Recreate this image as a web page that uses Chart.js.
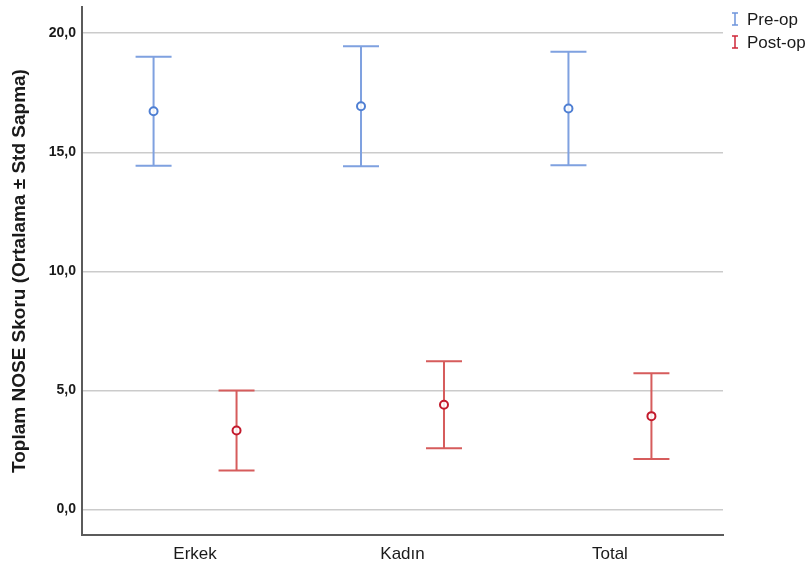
<!DOCTYPE html>
<html>
<head>
<meta charset="utf-8">
<script src="https://cdn.jsdelivr.net/npm/chart.js@4.4.1/dist/chart.umd.min.js"></script>
<style>
  html, body { margin: 0; padding: 0; background: #fff; }
  #wrap { width: 810px; height: 568px; position: relative; }
</style>
</head>
<body>
<div id="wrap"><canvas id="c"></canvas></div>
<script>
/* ── Data ──────────────────────────────────────────────────────────── */
const categories  = ['Erkek', 'Kadın', 'Total'];
const seriesNames = ['Pre-op', 'Post-op'];
const preMean  = [16.72, 16.93, 16.84];
const preSD    = [2.29, 2.52, 2.38];
const postMean = [3.32, 4.40, 3.92];
const postSD   = [1.68, 1.83, 1.80];
const yTicks   = [0, 5, 10, 15, 20];

/* ── Styling ───────────────────────────────────────────────────────── */
const FONT = '"Liberation Sans", Arial, sans-serif';
const COLORS = {
  pre:  { line: '#7fa1e0', mark: '#4f7fd3', legend: '#6f95dc' },
  post: { line: '#d65c5c', mark: '#c31a2c', legend: '#d0283a' },
};
const GROUP_OFFSET = 0.2;   // pre-op left, post-op right of the category
const CAP_HALF = 18;

function points(means, shift) {
  return means.map((m, i) => ({ x: i + 1 + shift, y: m }));
}

/* Error bars: mean ± SD, drawn through the y scale */
const errorBars = {
  id: 'errorBars',
  beforeDatasetsDraw(chart) {
    const ctx = chart.ctx;
    const ys = chart.scales.y;
    chart.data.datasets.forEach((ds, di) => {
      const meta = chart.getDatasetMeta(di);
      ctx.save();
      ctx.strokeStyle = ds.barColor;
      ctx.lineWidth = 2;
      meta.data.forEach((pt, i) => {
        const m = ds.data[i].y, sd = ds.sd[i];
        const yHi = ys.getPixelForValue(m + sd);
        const yLo = ys.getPixelForValue(m - sd);
        const x = pt.x;
        ctx.beginPath();
        ctx.moveTo(x, yHi); ctx.lineTo(x, yLo);
        ctx.moveTo(x - CAP_HALF, yHi); ctx.lineTo(x + CAP_HALF, yHi);
        ctx.moveTo(x - CAP_HALF, yLo); ctx.lineTo(x + CAP_HALF, yLo);
        ctx.stroke();
      });
      ctx.restore();
    });
  },
};

/* Legend with small I-beam glyphs, outside the plot at top right */
const sideLegend = {
  id: 'sideLegend',
  afterDraw(chart) {
    const ctx = chart.ctx;
    const x0 = chart.chartArea.right + 12;
    chart.data.datasets.forEach((ds, i) => {
      const cy = 19 + i * 23;
      ctx.save();
      ctx.strokeStyle = ds.legendColor;
      ctx.lineWidth = 1.5;
      ctx.beginPath();
      ctx.moveTo(x0, cy - 6); ctx.lineTo(x0, cy + 6);
      ctx.moveTo(x0 - 3, cy - 6); ctx.lineTo(x0 + 3, cy - 6);
      ctx.moveTo(x0 - 3, cy + 6); ctx.lineTo(x0 + 3, cy + 6);
      ctx.stroke();
      ctx.fillStyle = '#1a1a1a';
      ctx.font = '17px ' + FONT;
      ctx.textBaseline = 'middle';
      ctx.fillText(ds.label, x0 + 12, cy + 1);
      ctx.restore();
    });
  },
};

new Chart(document.getElementById('c'), {
  type: 'scatter',
  data: {
    datasets: [
      {
        label: seriesNames[0],
        data: points(preMean, -GROUP_OFFSET),
        sd: preSD,
        barColor: COLORS.pre.line,
        legendColor: COLORS.pre.legend,
        pointRadius: 4,
        pointBorderWidth: 2,
        pointBorderColor: COLORS.pre.mark,
        pointBackgroundColor: 'rgba(255,255,255,0.85)',
      },
      {
        label: seriesNames[1],
        data: points(postMean, GROUP_OFFSET),
        sd: postSD,
        barColor: COLORS.post.line,
        legendColor: COLORS.post.legend,
        pointRadius: 4,
        pointBorderWidth: 2,
        pointBorderColor: COLORS.post.mark,
        pointBackgroundColor: 'rgba(255,255,255,0.85)',
      },
    ],
  },
  options: {
    responsive: true,
    maintainAspectRatio: false,
    animation: false,
    layout: { padding: { top: 7, right: 87, left: 0, bottom: 0 } },
    plugins: { legend: { display: false }, tooltip: { enabled: false } },
    scales: {
      x: {
        type: 'linear',
        min: 0.455,
        max: 3.545,
        afterBuildTicks: s => { s.ticks = categories.map((c, i) => ({ value: i + 1 })); },
        afterFit: s => { s.height = 33; s.paddingLeft = 0; s.paddingRight = 0; },
        ticks: {
          callback: v => categories[Math.round(v) - 1],
          color: '#1a1a1a',
          font: { family: FONT, size: 17 },
          padding: 9,
          maxRotation: 0,
        },
        grid: { display: false, drawTicks: false },
        border: { display: true, color: '#5b5b5b', width: 2 },
      },
      y: {
        min: -1.07,
        max: 21.1,
        afterBuildTicks: s => { s.ticks = yTicks.map(v => ({ value: v })); },
        afterFit: s => { s.width = 82; s.paddingTop = 0; s.paddingBottom = 0; },
        ticks: {
          callback: v => v.toFixed(1).replace('.', ','),
          color: '#1a1a1a',
          font: { family: FONT, size: 14, weight: 'bold' },
          padding: 6,
        },
        grid: { color: '#cbcbcb', lineWidth: 1.5, drawTicks: false },
        border: { display: true, color: '#5b5b5b', width: 2 },
        title: {
          display: true,
          text: 'Toplam NOSE Skoru (Ortalama ± Std Sapma)',
          color: '#1a1a1a',
          font: { family: FONT, size: 19, weight: 'bold' },
          padding: { top: 8, bottom: 0 },
        },
      },
    },
  },
  plugins: [errorBars, sideLegend],
});
</script>
</body>
</html>
